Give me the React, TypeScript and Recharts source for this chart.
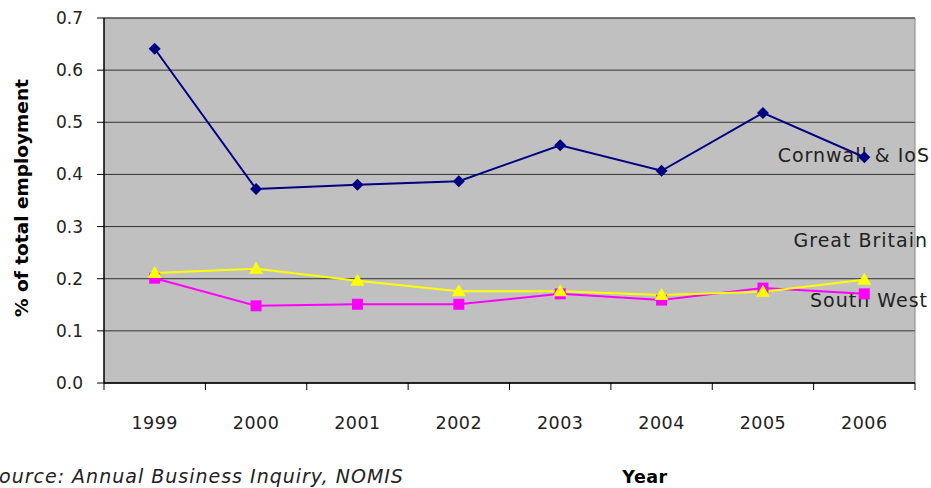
import { CartesianGrid, Customized, Line, LineChart, XAxis, YAxis } from "recharts";

const years = ["1999", "2000", "2001", "2002", "2003", "2004", "2005", "2006"];
const cornwall = [0.641, 0.372, 0.38, 0.387, 0.456, 0.407, 0.518, 0.433];
const southWest = [0.201, 0.148, 0.151, 0.151, 0.171, 0.159, 0.182, 0.171];
const greatBritain = [0.211, 0.219, 0.196, 0.176, 0.176, 0.169, 0.175, 0.198];
const yTicks = [0, 0.1, 0.2, 0.3, 0.4, 0.5, 0.6, 0.7];

const data = years.map((year, i) => ({
  year,
  cornwall: cornwall[i],
  southWest: southWest[i],
  greatBritain: greatBritain[i],
}));

const W = 931;
const H = 488;
const LEFT = 104;
const RIGHT = 16;
const TOP = 18;
const BOTTOM = 105;
const BAND = (W - LEFT - RIGHT) / years.length;
const FONT = "'DejaVu Sans', sans-serif";

function YearTick(props: any) {
  const { x, y, payload, index } = props;
  const left = x - BAND / 2;
  const top = y - 8;
  return (
    <g>
      <line x1={left} x2={left} y1={top} y2={top + 7} stroke="#000" />
      {index === years.length - 1 && (
        <line x1={left + BAND} x2={left + BAND} y1={top} y2={top + 7} stroke="#000" />
      )}
      <text
        x={x}
        y={top + 46}
        textAnchor="middle"
        fontSize={17.5}
        letterSpacing={0.5}
        fill="#222"
        fontFamily={FONT}
      >
        {payload.value}
      </text>
    </g>
  );
}

function Diamond(props: any) {
  const { cx, cy } = props;
  const r = 6;
  return <path d={`M${cx},${cy - r}L${cx + r},${cy}L${cx},${cy + r}L${cx - r},${cy}Z`} fill="#000080" />;
}

function Square(props: any) {
  const { cx, cy } = props;
  return <rect x={cx - 5.5} y={cy - 5.5} width={11} height={11} fill="#FF00FF" />;
}

function Triangle(props: any) {
  const { cx, cy } = props;
  return <path d={`M${cx},${cy - 7}L${cx + 7},${cy + 5}L${cx - 7},${cy + 5}Z`} fill="#FFFF00" />;
}

function Annotations() {
  return (
    <g fontFamily={FONT} fill="#222">
      <line x1={W - RIGHT} x2={W - RIGHT} y1={TOP} y2={H - BOTTOM} stroke="#888" />
      <line x1={LEFT} x2={W - RIGHT} y1={TOP} y2={TOP} stroke="#555" />
      <g fontSize={19} letterSpacing={1}>
        <text x={930} y={162} textAnchor="end">Cornwall &amp; IoS</text>
        <text x={928} y={247} textAnchor="end">Great Britain</text>
        <text x={928} y={307} textAnchor="end">South West</text>
      </g>
      <text
        x={28}
        y={198}
        transform="rotate(-90 28 198)"
        textAnchor="middle"
        fontSize={18.5}
        fontWeight="bold"
        fill="#000"
      >
        % of total employment
      </text>
      <text x={-14} y={483} fontSize={19} letterSpacing={1} fontStyle="italic">
        Source: Annual Business Inquiry, NOMIS
      </text>
      <text
        x={645}
        y={483}
        textAnchor="middle"
        fontSize={17.5}
        letterSpacing={0.5}
        fontWeight="bold"
        fill="#000"
      >
        Year
      </text>
    </g>
  );
}

export default function App() {
  return (
    <div style={{ position: "absolute", left: 0, top: 0, width: W, height: H, background: "#fff" }}>
      <LineChart
        width={W}
        height={H}
        data={data}
        margin={{ top: TOP, right: RIGHT, bottom: 0, left: 0 }}
      >
        <CartesianGrid vertical={false} fill="#C0C0C0" fillOpacity={1} stroke="#333" />
        <XAxis
          dataKey="year"
          axisLine={{ stroke: "#000", strokeWidth: 1.5 }}
          tickLine={false}
          tick={<YearTick />}
          interval={0}
          height={BOTTOM}
          padding={{ left: BAND / 2, right: BAND / 2 }}
        />
        <YAxis
          width={LEFT}
          domain={[0, 0.7]}
          ticks={yTicks}
          tickFormatter={(v) => Number(v).toFixed(1)}
          axisLine={{ stroke: "#000", strokeWidth: 1.5 }}
          tickLine={{ stroke: "#000" }}
          tickSize={7}
          tickMargin={14}
          tick={{ fill: "#222", fontSize: 17, fontFamily: FONT }}
          allowDataOverflow
        />
        <Line
          dataKey="cornwall"
          stroke="#000080"
          strokeWidth={2}
          dot={<Diamond />}
          isAnimationActive={false}
        />
        <Line
          dataKey="southWest"
          stroke="#FF00FF"
          strokeWidth={2}
          dot={<Square />}
          isAnimationActive={false}
        />
        <Line
          dataKey="greatBritain"
          stroke="#FFFF00"
          strokeWidth={2}
          dot={<Triangle />}
          isAnimationActive={false}
        />
        <Customized component={<Annotations />} />
      </LineChart>
    </div>
  );
}
